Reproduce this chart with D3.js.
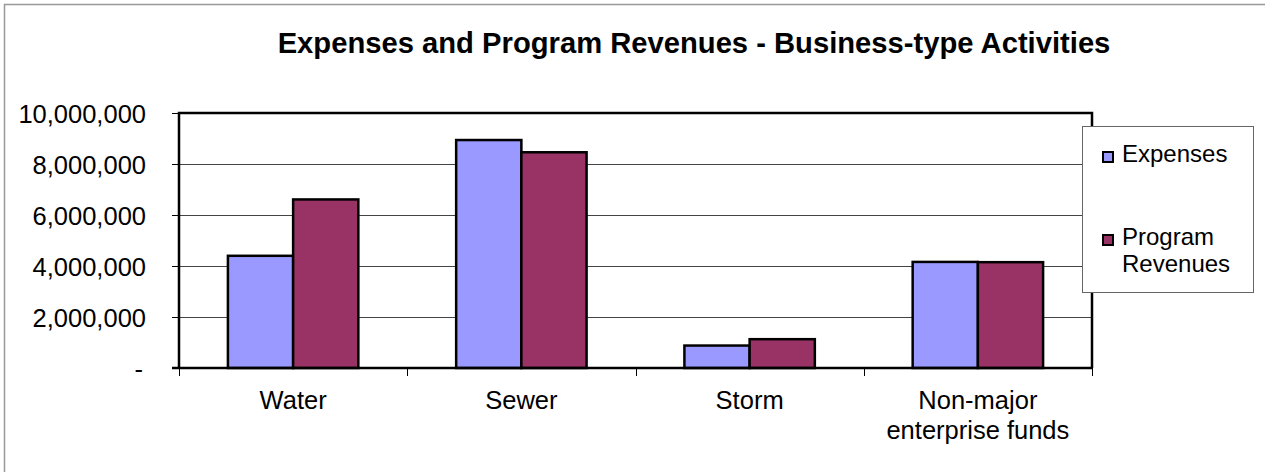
<!DOCTYPE html>
<html lang="en">
<head>
<meta charset="UTF-8">
<title>Expenses and Program Revenues</title>
<script src="https://d3js.org/d3.v7.min.js"></script>
<style>
  body { margin: 0; background: #fff; }
  text { font-family: "Liberation Sans", Arial, sans-serif; fill: #000; }
</style>
</head>
<body>
<svg id="chart" width="1265" height="472"></svg>
<script>
// data
const categories = ["Water", "Sewer", "Storm", "Non-major enterprise funds"]
const seriesNames = ["Expenses", "Program Revenues"]
const expenses = [4400000, 8940000, 880000, 4160000]
const revenues = [6610000, 8460000, 1130000, 4150000]
const yTicks = [0, 2000000, 4000000, 6000000, 8000000, 10000000]
const colors = ["#9999FF", "#993366"]

const svg = d3.select("#chart")
const plotL = 179, plotR = 1092, plotT = 113, plotB = 368

// outer frame
svg.append("rect").attr("x", 4.5).attr("y", 4.5).attr("width", 1300).attr("height", 600)
  .attr("fill", "none").attr("stroke", "#999").attr("stroke-width", 1.5)

svg.append("text").attr("x", 694).attr("y", 53).attr("text-anchor", "middle")
  .attr("font-size", "29.2px").attr("font-weight", "bold")
  .text("Expenses and Program Revenues - Business-type Activities")

const x = d3.scaleBand().domain(categories).range([plotL, plotR]).paddingInner(0).paddingOuter(0)
const y = d3.scaleLinear().domain([0, 10000000]).range([plotB, plotT])

// gridlines
svg.append("g").selectAll("line").data(yTicks.slice(1)).join("line")
  .attr("x1", plotL).attr("x2", plotR)
  .attr("y1", d => Math.round(y(d)) + 0.5).attr("y2", d => Math.round(y(d)) + 0.5)
  .attr("stroke", "#444").attr("stroke-width", 1)

// y axis
const fmt = d => d === 0 ? "-" : d3.format(",")(d)
const yAxis = svg.append("g").attr("transform", `translate(${plotL},0)`)
  .call(d3.axisLeft(y).tickValues(yTicks).tickFormat(fmt).tickSizeInner(7).tickSizeOuter(0).tickPadding(26))
yAxis.select(".domain").remove()
yAxis.selectAll("line").attr("stroke", "#000")
yAxis.selectAll("text").attr("font-size", "25.5px").attr("font-family", "Liberation Sans, Arial, sans-serif")
  .attr("dy", "0.36em")
yAxis.selectAll(".tick").filter(d => d === 0).select("text").attr("dx", "-3px")

// bars
const inner = d3.scaleBand().domain(seriesNames).range([0, x.bandwidth()]).paddingInner(0).paddingOuter(0.75)
const rows = categories.map((c, i) => ({ cat: c, vals: [expenses[i], revenues[i]] }))
svg.append("g").selectAll("g").data(rows).join("g")
  .attr("transform", d => `translate(${x(d.cat)},0)`)
  .selectAll("rect").data(d => d.vals.map((v, j) => ({ name: seriesNames[j], v, j })))
  .join("rect")
  .attr("x", d => inner(d.name))
  .attr("width", inner.bandwidth())
  .attr("y", d => y(d.v))
  .attr("height", d => plotB - y(d.v))
  .attr("fill", d => colors[d.j])
  .attr("stroke", "#000").attr("stroke-width", 2.5)

// plot frame
svg.append("path")
  .attr("d", `M${plotL},${plotB}V${plotT}H${plotR}V${plotB}`)
  .attr("fill", "none").attr("stroke", "#000").attr("stroke-width", 2.5)
svg.append("line").attr("x1", plotL - 7).attr("x2", plotR).attr("y1", plotB).attr("y2", plotB)
  .attr("stroke", "#000").attr("stroke-width", 2.5)

// x category ticks
const bounds = categories.map(c => x(c)).concat([plotR])
svg.append("g").selectAll("line").data(bounds).join("line")
  .attr("x1", d => Math.round(d) + 0.5).attr("x2", d => Math.round(d) + 0.5)
  .attr("y1", plotB).attr("y2", plotB + 8).attr("stroke", "#000")

// x labels
const labelLines = { "Non-major enterprise funds": ["Non-major", "enterprise funds"] }
svg.append("g").selectAll("text").data(categories).join("text")
  .attr("x", d => x(d) + x.bandwidth() / 2).attr("y", 409)
  .attr("text-anchor", "middle").attr("font-size", "25.5px")
  .each(function (d) {
    const lines = labelLines[d] || [d]
    d3.select(this).selectAll("tspan").data(lines).join("tspan")
      .attr("x", x(d) + x.bandwidth() / 2).attr("dy", (l, i) => i ? 30 : 0).text(l => l)
  })

// legend
const lg = svg.append("g")
lg.append("rect").attr("x", 1082.5).attr("y", 126.5).attr("width", 171).attr("height", 166)
  .attr("fill", "#fff").attr("stroke", "#666").attr("stroke-width", 1)
const legendRows = [
  { name: seriesNames[0], lines: ["Expenses"], y: 162 },
  { name: seriesNames[1], lines: ["Program", "Revenues"], y: 245 }
]
legendRows.forEach((r, i) => {
  lg.append("rect").attr("x", 1103).attr("y", r.y - 10).attr("width", 10).attr("height", 10)
    .attr("fill", colors[i]).attr("stroke", "#000").attr("stroke-width", 2)
  const t = lg.append("text").attr("x", 1122).attr("y", r.y).attr("font-size", "24px")
  r.lines.forEach((l, k) => t.append("tspan").attr("x", 1122).attr("dy", k ? 27 : 0).text(l))
})
</script>
</body>
</html>
